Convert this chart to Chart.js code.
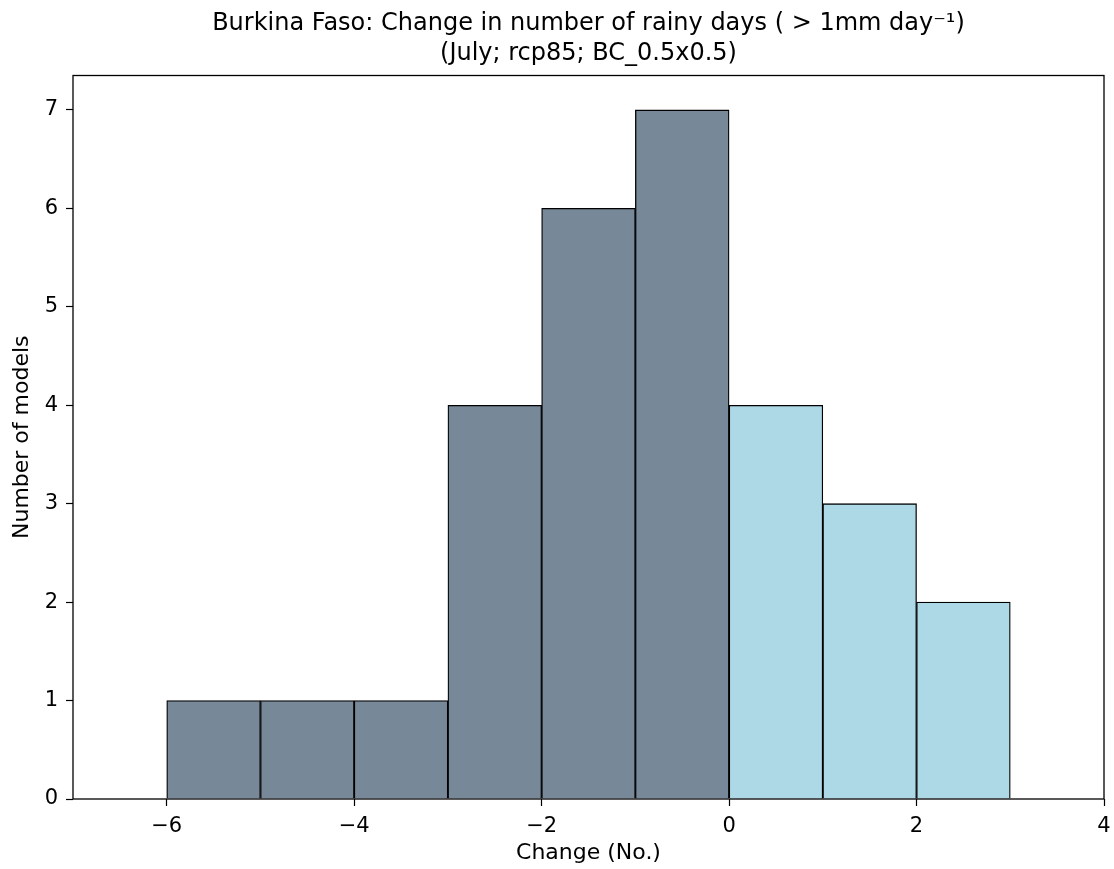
<!DOCTYPE html>
<html>
<head>
<meta charset="utf-8">
<script src="https://cdn.jsdelivr.net/npm/chart.js@4/dist/chart.umd.min.js"></script>
<style>
  html, body { margin: 0; padding: 0; background: #fff; }
  #wrap { width: 1114px; height: 869px; }
</style>
</head>
<body>
<div id="wrap"><canvas id="c" width="1114" height="869"></canvas></div>
<script>
// ---- data ----
const binStarts = [-6, -5, -4, -3, -2, -1, 0, 1, 2];
const binWidth = 1;
const counts = [1, 1, 1, 4, 6, 7, 4, 3, 2];
const xTicks = [-6, -4, -2, 0, 2, 4];
const yTicks = [0, 1, 2, 3, 4, 5, 6, 7];
const titleLines = ['Burkina Faso: Change in number of rainy days ( > 1mm day\u207B\u00B9)', '(July; rcp85; BC_0.5x0.5)'];
const xLabel = 'Change (No.)';
const yLabel = 'Number of models';

// ---- styles ----
const negColor = '#778899';
const posColor = '#ADD8E6';
const FONT = 'DejaVu Sans';

const points = binStarts.map((s, i) => ({ x: s + binWidth / 2, y: counts[i] }));
const barColors = binStarts.map(s => (s < 0 ? negColor : posColor));

const fmt = v => (v < 0 ? '\u2212' + Math.abs(v) : String(v));

const framePlugin = {
  id: 'frame',
  afterLayout(chart) {
    // centre the title over the plotting area, as matplotlib does
    const t = chart.titleBlock, a = chart.chartArea;
    if (t) { t.left = a.left; t.right = a.right; t.width = a.right - a.left; }
  },
  afterDatasetsDraw(chart) {
    const { ctx, chartArea: a } = chart;
    ctx.save();
    ctx.strokeStyle = '#000';
    ctx.lineWidth = 1.3;
    ctx.strokeRect(a.left, a.top, a.right - a.left, a.bottom - a.top);
    ctx.restore();
  }
};

new Chart(document.getElementById('c'), {
  type: 'bar',
  data: {
    datasets: [{
      data: points,
      backgroundColor: barColors,
      borderColor: '#000',
      borderWidth: 1.3,
      barPercentage: 1,
      categoryPercentage: 1
    }]
  },
  options: {
    responsive: false,
    animation: false,
    layout: { padding: { left: 0, right: 10, top: 0, bottom: 0 } },
    plugins: {
      legend: { display: false },
      tooltip: { enabled: false },
      title: {
        display: true,
        text: titleLines,
        color: '#000',
        font: { family: FONT, size: 24, weight: 'normal', lineHeight: 1.25 },
        padding: { top: 9, bottom: 6.5 }
      }
    },
    scales: {
      x: {
        type: 'linear',
        min: -7,
        max: 4,
        offset: false,
        afterBuildTicks: s => { s.ticks = xTicks.map(v => ({ value: v })); },
        afterFit: s => { s.height = 70; s.paddingLeft = 0; s.paddingRight = 0; },
        grid: { display: true, offset: false, drawOnChartArea: false, drawTicks: true, tickLength: 7, tickColor: '#000', tickWidth: 1.2 },
        border: { display: false },
        ticks: { color: '#000', font: { family: FONT, size: 21 }, padding: 8, maxRotation: 0, callback: v => fmt(v) },
        title: { display: true, text: xLabel, color: '#000', font: { family: FONT, size: 22 }, padding: { top: 0, bottom: 3 } }
      },
      y: {
        type: 'linear',
        min: 0,
        max: 7.35,
        afterBuildTicks: s => { s.ticks = yTicks.map(v => ({ value: v })); },
        afterFit: s => { s.width = 73; s.paddingTop = 0; s.paddingBottom = 0; },
        grid: { display: true, offset: false, drawOnChartArea: false, drawTicks: true, tickLength: 7, tickColor: '#000', tickWidth: 1.2 },
        border: { display: false },
        ticks: { color: '#000', font: { family: FONT, size: 21 }, padding: 8, callback: v => fmt(v) },
        title: { display: true, text: yLabel, color: '#000', font: { family: FONT, size: 22 }, padding: { top: 9.5, bottom: 0 } }
      }
    }
  },
  plugins: [framePlugin]
});
</script>
</body>
</html>
